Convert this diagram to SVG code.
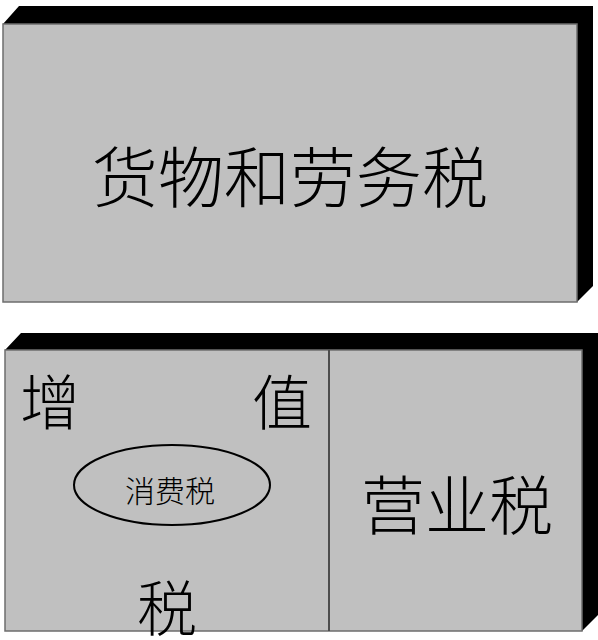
<svg xmlns="http://www.w3.org/2000/svg" width="598" height="640" viewBox="0 0 598 640">
<style>
.face{fill:#c0c0c0;stroke:#6e6e6e;stroke-width:1.5}
.side{fill:#000}
.t{font-family:"Noto Sans CJK SC","Noto Sans CJK JP",sans-serif;fill:#000;text-anchor:middle;dominant-baseline:central;font-weight:300}
</style>
<rect width="598" height="640" fill="#fff"/>
<g id="node-goods">
<polygon class="side" points="3,24 19,6 593,6 593,286 577,302 577,24"/>
<rect class="face" x="3" y="24" width="574" height="278"/>
<text class="t" x="290" y="173" font-size="66">货物和劳务税</text>
</g>
<g id="node-bottom">
<polygon class="side" points="5,350 21,333 598,333 598,615 582,631 582,350"/>
<rect class="face" x="5" y="350" width="577" height="281"/>
</g>
<g id="connectors">
<line x1="329" y1="350" x2="329" y2="631" stroke="#4d4d4d" stroke-width="2"/>
</g>
<g id="node-vat">
<text class="t" x="50" y="398" font-size="60">增</text>
<text class="t" x="282" y="398" font-size="60">值</text>
<text class="t" x="167" y="604" font-size="60">税</text>
</g>
<g id="node-consumption">
<ellipse cx="172" cy="485" rx="98" ry="40" fill="none" stroke="#000" stroke-width="2"/>
<text class="t" x="170" y="489" font-size="30">消费税</text>
</g>
<g id="node-business">
<text class="t" x="457" y="501" font-size="64">营业税</text>
</g>
</svg>
